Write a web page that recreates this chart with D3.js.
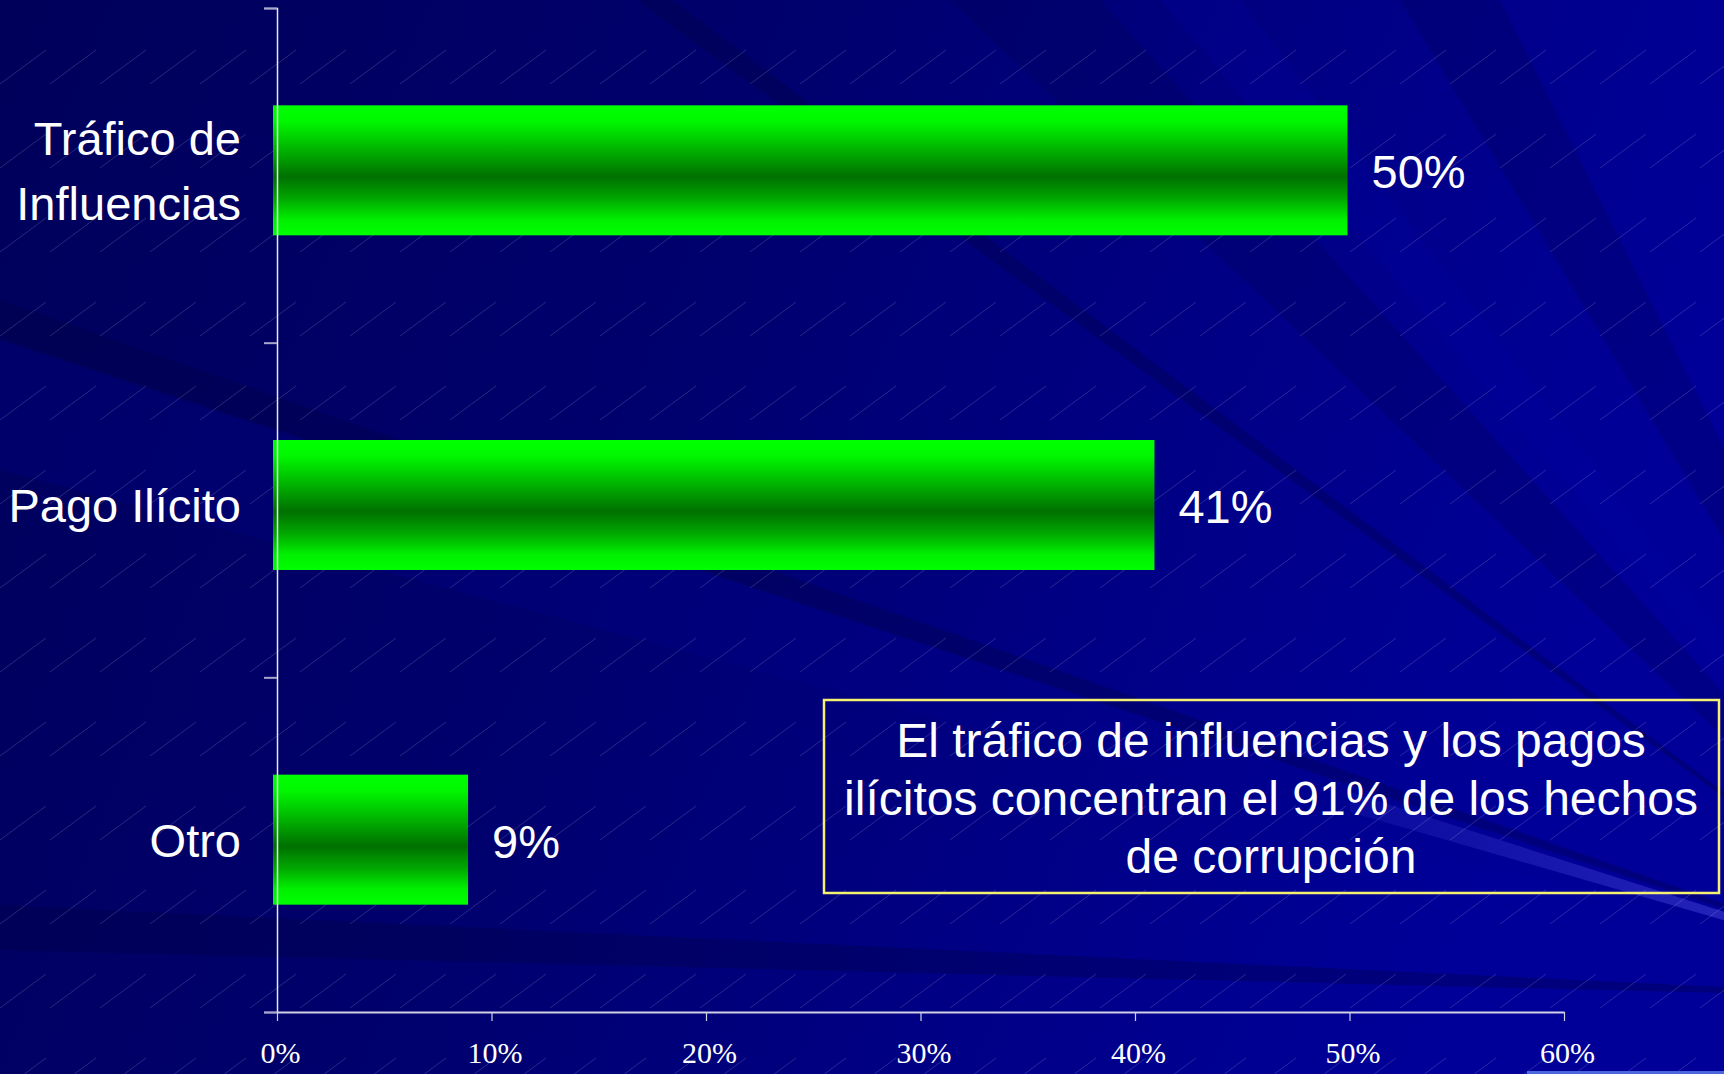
<html>
<head>
<meta charset="utf-8">
<script src="https://d3js.org/d3.v7.min.js"></script>
<style>
  body { margin: 0; background: #000066; overflow: hidden; }
  svg { display: block; }
  .cat, .val, .note { font-family: "Liberation Sans", Arial, sans-serif; fill: white; }
</style>
</head>
<body>
<svg width="1724" height="1074"></svg>
<script>
// chart data
const categories = ["Tráfico de Influencias", "Pago Ilícito", "Otro"];
const categoryLines = [["Tráfico de", "Influencias"], ["Pago Ilícito"], ["Otro"]];
const values = [50, 41, 9];
const xTicks = [0, 10, 20, 30, 40, 50, 60];
const noteLines = [
  "El tráfico de influencias y los pagos",
  "ilícitos concentran el 91% de los hechos",
  "de corrupción"
];

const W = 1724, H = 1074;
const svg = d3.select("body").select("svg");
const defs = svg.append("defs");

// ---- background (slide texture) ----
const bg = defs.append("linearGradient").attr("id", "bg")
  .attr("x1", 0).attr("y1", 0).attr("x2", 1).attr("y2", 0.25);
bg.append("stop").attr("offset", 0).attr("stop-color", "#00005a");
bg.append("stop").attr("offset", 0.45).attr("stop-color", "#00006e");
bg.append("stop").attr("offset", 0.8).attr("stop-color", "#00008a");
bg.append("stop").attr("offset", 1).attr("stop-color", "#000098");

const hatch = defs.append("pattern").attr("id", "hatch")
  .attr("patternUnits", "userSpaceOnUse").attr("width", 50).attr("height", 84);
hatch.append("line").attr("x1", 0).attr("y1", 84).attr("x2", 46).attr("y2", 50)
  .attr("stroke", "#ffffff").attr("stroke-width", 0.7).attr("stroke-opacity", 0.22);

const glow = defs.append("linearGradient").attr("id", "glow")
  .attr("gradientUnits", "userSpaceOnUse").attr("x1", 1200).attr("y1", 0).attr("x2", 1724).attr("y2", 0);
glow.append("stop").attr("offset", 0).attr("stop-color", "#3a3ad0").attr("stop-opacity", 0);
glow.append("stop").attr("offset", 1).attr("stop-color", "#3a3ad0").attr("stop-opacity", 0.6);

svg.append("rect").attr("width", W).attr("height", H).attr("fill", "url(#bg)");

// light rays coming from a point off the lower right
const F = [2000, 1000];
const rays = [
  [[0, 300], [0, 338], "#000040", 0.3],
  [[0, 340], [0, 470], "#000090", 0.25],
  [[0, 905], [0, 950], "#000040", 0.3],
  [[637, 0], [672, 0], "#000040", 0.3],
  [[950, 0], [1100, 0], "#000050", 0.25],
  [[1160, 0], [1240, 0], "#0000a8", 0.2],
  [[1400, 0], [1500, 0], "#000050", 0.25],
  [[1350, 792], [1350, 812], "url(#glow)", 1]
];
svg.append("g").selectAll("polygon").data(rays).enter().append("polygon")
  .attr("points", d => {
    const ext = p => [F[0] + (p[0] - F[0]) * 1.6, F[1] + (p[1] - F[1]) * 1.6];
    const a = d[0][0] === 0 || d[0][1] === 0 ? ext(d[0]) : d[0];
    const b = d[1][0] === 0 || d[1][1] === 0 ? ext(d[1]) : d[1];
    return [F, a, b].map(p => p.join(",")).join(" ");
  })
  .attr("fill", d => d[2]).attr("opacity", d => d[3]);

svg.append("rect").attr("width", W).attr("height", H).attr("fill", "url(#hatch)");

// strip at the bottom right
svg.append("rect").attr("x", 1527).attr("y", 1071).attr("width", 197).attr("height", 3).attr("fill", "#4a68dc");

// ---- bars ----
const barGrad = defs.append("linearGradient").attr("id", "bar")
  .attr("x1", 0).attr("y1", 0).attr("x2", 0).attr("y2", 1);
[[0, "#00ff00"], [0.12, "#00f800"], [0.3, "#00c000"], [0.55, "#007000"], [0.72, "#00a800"], [0.88, "#00f000"], [1, "#00ff00"]]
  .forEach(s => barGrad.append("stop").attr("offset", s[0]).attr("stop-color", s[1]));

const x = d3.scaleLinear().domain([0, 60]).range([277, 1564]);
const y = d3.scaleBand().domain(categories).range([8, 1012]);
const yEdge = d3.scaleLinear().domain([0, categories.length]).range([8, 1012]);
const barH = 130;
const mid = c => y(c) + y.bandwidth() / 2 - 5;

svg.append("g").selectAll("rect").data(categories).enter().append("rect")
  .attr("x", x(0) - 4)
  .attr("y", c => mid(c) - barH / 2)
  .attr("width", (c, i) => x(values[i]) - x(0) + 2)
  .attr("height", barH)
  .attr("fill", "url(#bar)");

// value labels
svg.append("g").selectAll("text").data(categories).enter().append("text")
  .attr("class", "val")
  .attr("x", (c, i) => x(values[i]) + 22)
  .attr("y", c => mid(c) + 18)
  .attr("font-size", 47)
  .text((c, i) => values[i] + "%");

// category labels
const cat = svg.append("g").selectAll("text").data(categories).enter().append("text")
  .attr("class", "cat")
  .attr("text-anchor", "end")
  .attr("font-size", 47);
cat.each(function(c, i) {
  const lines = categoryLines[i];
  const top = mid(c) + 17 - (lines.length - 1) * 65 / 2;
  lines.forEach((t, k) => {
    d3.select(this).append("tspan").attr("x", 241).attr("y", top + k * 65).text(t);
  });
});

// ---- axes ----
const yAxis = svg.append("g")
  .attr("transform", "translate(" + x(0) + ",0)")
  .call(d3.axisLeft(yEdge).tickValues(d3.range(categories.length + 1)).tickSize(13).tickFormat(""));
yAxis.select(".domain").attr("stroke", "#e8e8f4").attr("stroke-width", 1.5);
yAxis.selectAll(".tick line").attr("stroke", "#a8a8cc").attr("stroke-width", 2);

const xAxis = svg.append("g")
  .attr("transform", "translate(0,1012)")
  .call(d3.axisBottom(x).tickValues(xTicks).tickSize(9).tickSizeOuter(0).tickPadding(21)
    .tickFormat(d => d + "%"));
xAxis.select(".domain").attr("stroke", "#d0d0e4").attr("stroke-width", 2);
xAxis.selectAll(".tick line").attr("stroke", "#d0d0e4").attr("stroke-width", 1.2);
xAxis.selectAll(".tick text").attr("font-size", 30).attr("x", 3)
  .attr("font-family", "'Liberation Serif', 'Times New Roman', serif").attr("fill", "white");

// ---- note box ----
svg.append("rect").attr("x", 824).attr("y", 700).attr("width", 895).attr("height", 193)
  .attr("fill", "none").attr("stroke", "#f4f070").attr("stroke-width", 2.5);
svg.append("g").selectAll("text").data(noteLines).enter().append("text")
  .attr("class", "note")
  .attr("x", 1271)
  .attr("y", (d, i) => 757 + i * 58)
  .attr("text-anchor", "middle")
  .attr("font-size", 48)
  .text(d => d);
</script>
</body>
</html>
